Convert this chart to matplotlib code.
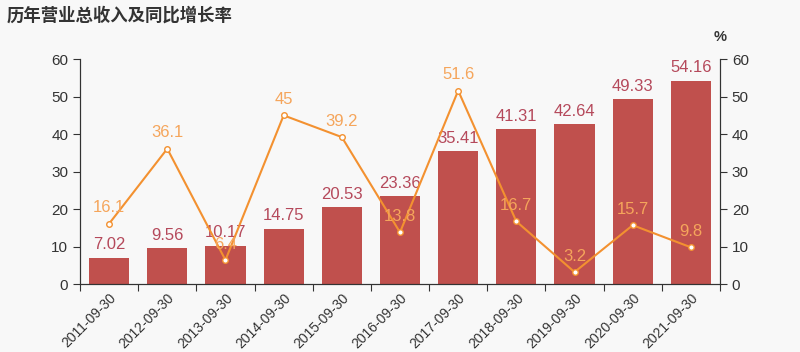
import numpy as np
import matplotlib.pyplot as plt

plt.rcParams['font.family'] = ['Noto Sans CJK SC', 'DejaVu Sans']

years = ["2011-09-30", "2012-09-30", "2013-09-30", "2014-09-30", "2015-09-30",
         "2016-09-30", "2017-09-30", "2018-09-30", "2019-09-30", "2020-09-30",
         "2021-09-30"]
revenue = [7.02, 9.56, 10.17, 14.75, 20.53, 23.36, 35.41, 41.31, 42.64, 49.33, 54.16]
growth = [16.1, 36.1, 6.4, 45, 39.2, 13.8, 51.6, 16.7, 3.2, 15.7, 9.8]

bg = '#f8f8f8'
bar_color = '#c0504d'
line_color = '#f39130'
bar_text = '#b5495b'
line_text = '#f5a55b'
num_font = ['Liberation Sans', 'DejaVu Sans']

fig = plt.figure(figsize=(8, 3.52), dpi=100, facecolor=bg)
ax = fig.add_axes([0.1, 0.193, 0.8, 0.639], facecolor=bg)
ax2 = ax.twinx()

x = np.arange(len(years))
ax.bar(x, revenue, width=0.69, color=bar_color, zorder=2)
for xi, v in zip(x, revenue):
    ax.annotate(f"{v:g}", (xi, v), xytext=(0, 4), textcoords='offset points',
                ha='center', va='bottom', color=bar_text, fontsize=12,
                family=num_font)

ax2.plot(x, growth, color=line_color, lw=1.5, marker='o', ms=4,
         markerfacecolor='white', markeredgecolor=line_color, zorder=3)
for xi, v in zip(x, growth):
    ax2.annotate(f"{v:g}", (xi, v), xytext=(0, 6), textcoords='offset points',
                 ha='center', va='bottom', color=line_text, fontsize=12,
                 family=num_font)

for a in (ax, ax2):
    a.set_ylim(0, 60)
    a.set_yticks(range(0, 61, 10))
    a.set_xlim(-0.5, len(years) - 0.5)
    a.spines['top'].set_visible(False)
    a.tick_params(axis='y', colors='#333333', labelsize=11, length=5, width=0.8)
    for s in a.spines.values():
        s.set_color('#333333')
    for lbl in a.get_yticklabels():
        lbl.set_family(num_font)

ax.set_xticks(np.arange(len(years) + 1) - 0.5)
ax.set_xticklabels([])
ax.set_xticks(x, minor=True)
ax.set_xticklabels(years, minor=True, rotation=45, ha='right', rotation_mode='anchor',
                   fontsize=10, color='#333333', family=num_font)
ax.tick_params(axis='x', which='major', length=5, width=0.8, color='#333333')
ax.tick_params(axis='x', which='minor', length=0, pad=5)

fig.text(0.008, 0.957, "历年营业总收入及同比增长率", fontsize=12.5, fontweight='bold',
         color='#333333', va='center')
fig.text(0.9, 0.895, "%", fontsize=10.5, fontweight='bold', color='#333333',
         ha='center', va='center', family=num_font)

fig.savefig("out.png", dpi=100, facecolor=bg)
